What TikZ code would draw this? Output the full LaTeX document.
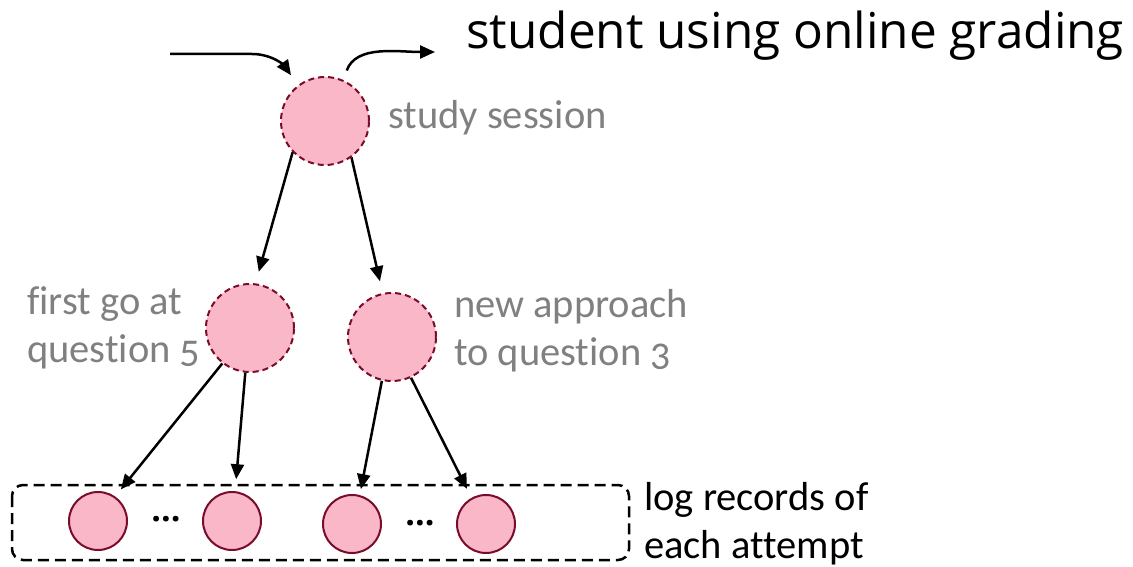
\documentclass[tikz,border=0pt]{standalone}
\usepackage{fontspec}
\setmainfont{Carlito}[Numbers=OldStyle, Ligatures=NoCommon]
\newfontfamily\titlefont{Open Sans}
\usetikzlibrary{arrows.meta}
\definecolor{pinkfill}{HTML}{F9B7C8}
\definecolor{darkred}{HTML}{7A0B2B}
\definecolor{labelgray}{HTML}{808080}
\tikzset{
  session/.style={circle, draw=darkred, fill=pinkfill, line width=2pt, dash pattern=on 6pt off 4pt, minimum size=88pt, inner sep=0pt},
  record/.style={circle, draw=darkred, fill=pinkfill, line width=2pt, minimum size=58pt, inner sep=0pt},
  arr/.style={line width=2.5pt, -{Triangle[length=15pt,width=13pt]}},
  lbl/.style={font=\fontsize{40.5}{48}\selectfont, text=labelgray, align=left, inner sep=0pt},
  blbl/.style={font=\fontsize{40.5}{48}\selectfont, text=black, align=left, inner sep=0pt},
  dots/.style={inner sep=0pt, font=\titlefont\bfseries\fontsize{34}{40}\selectfont},
}
\begin{document}
\begin{tikzpicture}[x=1pt,y=-1pt]
\useasboundingbox (0,0) rectangle (1133,567);
% title
\node[anchor=west, inner sep=0pt, font=\titlefont\fontsize{49.5}{56}\selectfont] (title) at (466,36) {student using online grading};
% nodes
\node[session] (top) at (325,121) {};
\node[session] (m1) at (250,328) {};
\node[session] (m2) at (392,337) {};
\node[record] (b1) at (98,521) {};
\node[record] (b2) at (232,521) {};
\node[record] (b3) at (352,524) {};
\node[record] (b4) at (486,524) {};
\node[dots] (d1) at (166,519) {...};
\node[dots] (d2) at (420,523) {...};
% dashed box
\draw[line width=2.5pt, dash pattern=on 11pt off 6pt, rounded corners=11pt] (12,485) rectangle (629,560);
% labels
\node[lbl, anchor=west] (lss) at (388,118) {study session};
\node[lbl, anchor=west] (lm1) at (27,328) {first go at\\question 5};
\node[lbl, anchor=west] (lm2) at (454,331) {new approach\\to question 3};
\node[blbl, anchor=west] (lrec) at (644,524) {log records of\\each attempt};
% connectors
\coordinate (in) at (170,54);
\coordinate (out) at (435,52);
\draw[arr, shorten >=12pt] (in) -- (252,54) to[out=0,in=125] (top.127);
\draw[arr, shorten <=10pt] (top.66) to[out=70,in=180] (out);
\draw[arr, shorten >=12pt] (top.224) -- (m1.83);
\draw[arr, shorten >=12pt] (top.306) -- (m2.102);
\draw[arr, shorten >=9pt] (m1.232) -- (b1.55);
\draw[arr, shorten >=12pt] (m1.264) -- (b2.84);
\draw[arr, shorten >=6pt] (m2.257) -- (b3.75);
\draw[arr, shorten >=10pt] (m2.295) -- (b4.119);
\end{tikzpicture}
\end{document}
